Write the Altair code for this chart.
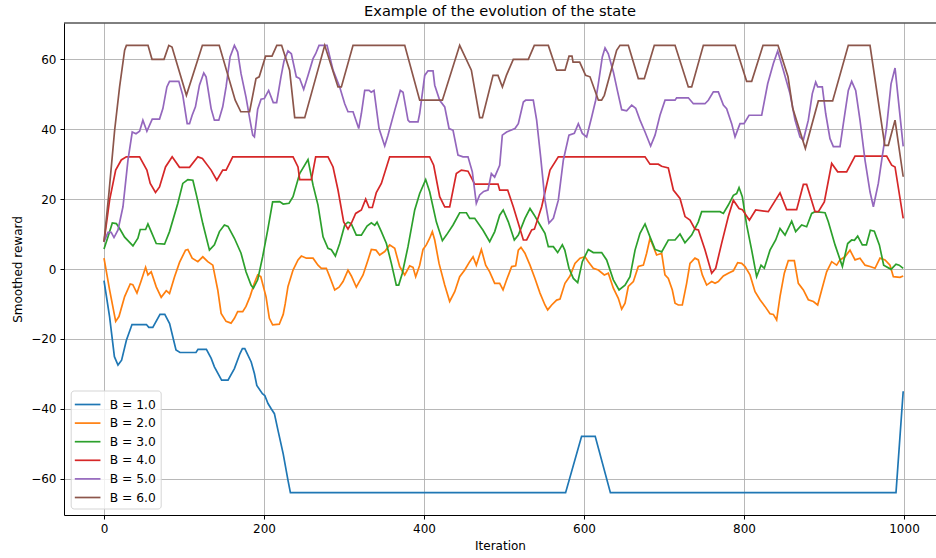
import altair as alt
import pandas as pd

series_names = ["B = 1.0", "B = 2.0", "B = 3.0", "B = 4.0", "B = 5.0", "B = 6.0"]
series_colors = ["#1f77b4", "#ff7f0e", "#2ca02c", "#d62728", "#9467bd", "#8c564b"]
x_ticks = [0, 200, 400, 600, 800, 1000]
y_ticks = [-60, -40, -20, 0, 20, 40, 60]

b1_x = [0, 7, 13, 17.5, 22, 28, 35, 53, 56, 61, 70, 76, 82, 90, 95, 115, 117.5, 128, 134, 138,
        147, 155, 163, 170, 173, 176, 184, 188, 191, 198, 201, 205, 209, 213, 217.5, 224, 230,
        233, 577, 597, 614, 633, 990, 999]
b1_y = [-3.3, -13.7, -25.1, -27.5, -26.1, -20.4, -15.9, -15.9, -16.7, -16.7, -13, -13, -15.6,
        -23.2, -23.9, -23.9, -23, -23, -25.6, -28, -31.8, -31.8, -28.5, -24.2, -22.8, -22.8,
        -26.6, -29.9, -33.3, -35.7, -36.2, -38.5, -40, -41.4, -46.2, -52.9, -60.5, -64, -64,
        -47.9, -47.9, -64, -64, -35]

b2_x = [0, 7, 14.6, 18.7, 25.8, 32.8, 36, 41.2, 46.6, 52, 54.9, 59, 65.3, 71.5, 77.8, 81.9,
        88.1, 94.4, 101.9, 104.8, 110.2, 117.3, 123.5, 129.7, 136, 142.2, 146.4, 152.6, 158.8,
        163, 167.1, 173.4, 177.5, 182.5, 187.9, 192.1, 196, 202.5, 206.7, 210.8, 219.1, 224,
        226.5, 230, 236.3, 242.5, 246.7, 253, 261.3, 267.5, 271.7, 277.9, 282.1, 288.4, 293.8,
        298.8, 305, 309.2, 315.4, 323.8, 330, 334.2, 340, 344.6, 350.9, 357.1, 363.4, 369.6,
        375.9, 382.1, 386.3, 389.6, 394.6, 398.8, 402.9, 407.1, 410.4, 413.4, 418.8, 425.9,
        432.1, 438.4, 444.6, 450.9, 457.1, 461.3, 465.4, 471.7, 477.1, 482.1, 488.4, 494.6,
        498.8, 503.3, 509.6, 514.6, 517.9, 521.2, 526.2, 532.5, 538.7, 545, 551.2, 554.6,
        559.6, 565.8, 570, 576.2, 582.5, 588.7, 595, 601.2, 605.4, 611.6, 617.9, 625.4, 630.4,
        636.7, 642.9, 647.1, 651.3, 655.4, 661.7, 667.9, 674.2, 678.3, 682.5, 686.7, 690.8,
        697.1, 701.2, 705.4, 710.4, 713.8, 717.9, 722.9, 728.3, 732.5, 738.7, 742.9, 747.9,
        753.3, 759.6, 763.8, 767.9, 774.2, 780.4, 786.7, 792.1, 797.1, 801.3, 807.5, 813.8,
        820, 826.2, 832.5, 836.7, 840.8, 845, 850.4, 855.4, 862.9, 867.9, 874.2, 880.4, 886.7,
        892.1, 897.1, 903.3, 909.6, 915.8, 920, 926.2, 932.5, 938.8, 945, 951.3, 957.5, 963.8,
        970, 976.3, 982.5, 986.7, 995, 999]
b2_y = [3.1, -6, -15, -13.6, -7.9, -4.3, -4.5, -6.9, -3.3, 0.5, -1.7, -0.8, -5.1, -8.1, -6.2,
        -7, -2.3, 1.9, 5.4, 5.6, 3.1, 2.1, 3.5, 2.1, 1.1, -6, -12.7, -15, -15.5, -14.1, -12.2,
        -12.2, -10.7, -7.9, -4.1, -1.7, -2.2, -7.9, -14.1, -16, -15.8, -13, -10, -5, -0.3, 2.6,
        3.7, 3.1, 3.1, 1.1, 0.2, 0.2, -2.2, -6, -5.2, -3.6, -0.3, -2, -5.2, -1.7, 2.6, 5.6, 5.4,
        4, 5, 6.9, 5.9, 0.7, -1.7, 0.9, 0.5, -2.2, 1.1, 5.6, 6.9, 8.8, 10.7, 8.3, 1.6, -4.6,
        -9.3, -6.5, -2.2, -0.3, 2.1, 3.5, 1.1, 5.6, 1.1, -0.8, -4.1, -4.1, -6, -3.1, 0.7, 0.9,
        5.4, 6.2, 4.5, 1.1, -2.7, -6.9, -10.3, -11.7, -10.3, -8.9, -8.6, -4.1, -2, 1.6, 3.1,
        3.5, 2.1, 0.2, -0.3, -1.7, -1.2, -5.5, -8.4, -11.5, -9.8, -5, -3.6, 0.7, 1.1, 4.5, 8.8,
        6.4, 4, 4.5, -1.7, -2.7, -6, -9.8, -10.3, -10.3, -4.1, 1.6, 3.1, 2.6, -1.7, -4.6, -3.6,
        -4.1, -3.6, -2, -1.2, -0.5, 1.8, 1.6, 0.7, -1.7, -6.5, -8.8, -10.7, -12.8, -13, -14.6,
        -7.9, -1.2, 2.4, 2.4, -4.1, -6, -8.8, -9.3, -10.3, -6, -0.8, 2.1, 1.1, 2.6, 3.5, 5.4,
        2.6, 3.1, 1.1, 0.7, 0.2, 3.1, 2.6, 1.1, -2.2, -2.4, -2]

b3_x = [0, 5, 10.4, 15.4, 19.5, 25.8, 36.2, 42.4, 45.3, 52, 54.9, 59, 65.3, 75.7, 81.9, 92.3,
        98.5, 104.8, 111.1, 116, 123.5, 131.8, 138, 144.3, 150.5, 155, 163, 171.3, 177.5, 183.8,
        186.7, 192.1, 198.3, 204.6, 210.8, 219.6, 224, 231.3, 236.3, 244.6, 255, 261.3, 267.5,
        273.8, 280, 284.2, 289.2, 294.6, 300.9, 305, 309, 315.4, 321.7, 328.8, 334.2, 338.4,
        341.3, 346.7, 353, 359.2, 365.4, 368.4, 372.9, 380, 388.4, 394.6, 402.1, 407.1, 415.4,
        423, 428, 436.3, 444.6, 453, 457.1, 463.4, 473.8, 482.1, 488.4, 494.6, 499, 505.4,
        512.9, 517.9, 526.2, 532.5, 537.9, 545, 551.2, 555.4, 561.7, 567.1, 572.9, 576, 581.2,
        586.7, 592.1, 597.9, 605.4, 611.6, 622.1, 628.3, 636.7, 643.8, 651.3, 657.5, 663.8,
        670, 676.3, 682.5, 688.8, 697.1, 705.4, 713.8, 720, 726.2, 734.6, 742.9, 747.1, 770,
        774.2, 780.4, 786.7, 790.8, 793.8, 797.9, 803.3, 809.6, 815.8, 821.3, 825.4, 832.5,
        839.6, 845, 851.3, 859.6, 864.6, 872.1, 878.3, 884.6, 888.8, 901.3, 905.4, 913.8, 923,
        929.6, 934.6, 938, 942.1, 947.9, 953, 957.9, 962.9, 969.2, 974.6, 983.8, 990, 994, 999]
b3_y = [5.7, 9.2, 13.2, 13, 11.6, 9.1, 6.6, 8.8, 11.3, 11.3, 12.9, 10.7, 7.3, 7.1, 10.7, 18.8,
        24.5, 25.6, 25.4, 20.7, 13, 5.4, 6.9, 10.7, 12.6, 12.2, 8.8, 4.5, -0.8, -4.6, -5.5, -3.1,
        3.5, 11.1, 19.2, 19.3, 18.6, 18.8, 20.7, 27.3, 31.3, 24, 18.3, 9.2, 5.9, 5.5, 3.7, 7.3,
        12.6, 13.4, 13, 9.7, 9.7, 12.3, 13.2, 12.5, 13.4, 10.7, 7.3, 1.6, -4.6, -4.6, -1.2, 6.4,
        16.9, 21.6, 25.6, 22.1, 13.5, 8.1, 9.7, 12.6, 16.1, 16.1, 14.5, 14.5, 11.1, 7.8, 10.7,
        15.4, 16.9, 13.5, 8.3, 9.7, 14.5, 17.3, 15.4, 12.6, 10.2, 6.4, 6.4, 4.7, 6.9, 5.4, 0.2,
        -2.7, -3.9, 2.1, 5.6, 4.7, 4.7, 2.6, -3.1, -6, -4.6, -2.2, 5.4, 10.2, 12.9, 9.2, 5.6,
        4.9, 8.3, 8.3, 10, 7.5, 9.7, 13.5, 16.4, 16.4, 15.9, 18.3, 21.1, 21.6, 23.3, 20.7, 12.6,
        5.4, -2.2, 1.1, 0.2, 5.4, 8.3, 11.6, 9.7, 13.7, 10.7, 12.6, 12.1, 15.9, 16.4, 16.1,
        13.5, 6.9, 0.7, 7.3, 8.3, 8.2, 9.4, 6.9, 6.9, 11.1, 10.8, 6.9, 1.1, -0.1, 1.4, 1.1, 0.2]

b4_x = [0, 7, 14.6, 21.6, 27.9, 44.5, 53.6, 57.8, 64.4, 69.4, 76.9, 85.2, 94.4, 106.9, 117.3,
        123, 133.9, 141, 148.4, 152.6, 160.9, 236.3, 242.5, 244.6, 259.2, 264.6, 280, 286.3,
        292.5, 299.6, 305, 309.2, 314.6, 321.7, 327.1, 331.3, 335.4, 340.4, 346.7, 357.1, 407.1,
        412.1, 419.6, 425.9, 432.1, 440.4, 446.7, 455, 463.4, 492.5, 494.6, 504.6, 511.6, 524.2,
        528.3, 534.6, 538, 547.1, 557.5, 567.9, 676.3, 682.5, 692.9, 697, 705.4, 711.7, 720,
        726.3, 732.5, 738.8, 743, 751.2, 759.6, 764.6, 772.1, 780.4, 786.7, 793.8, 797.9, 806.7,
        814.6, 830.4, 845, 853.3, 865.8, 874.2, 878.3, 888.8, 893, 900.4, 909.6, 917.1, 928.3,
        938.8, 978.3, 984.6, 988.8, 999]
b4_y = [7.8, 19.7, 28.3, 31.2, 32.1, 32.1, 28.3, 24.5, 21.9, 23.5, 29.2, 32.1, 29.1, 29.1, 32.1,
        31.6, 28.3, 25.4, 28.3, 28.3, 32.1, 32.1, 29.2, 25.6, 25.6, 32.1, 32.1, 29.2, 22.6, 13.5,
        11.4, 13.1, 15.9, 16.9, 20, 17.6, 17.6, 21.9, 24.5, 32.1, 32.1, 29.7, 20.7, 17.8, 17.8,
        27.3, 28.3, 28, 24.3, 24.3, 22.6, 22.6, 17.8, 8.3, 8.3, 11.2, 11.4, 17.8, 28.3, 32.1,
        32.1, 30, 30, 29.4, 28.9, 22.6, 20.2, 15, 14, 11.4, 11.2, 5.5, -1.2, 0.2, 7.4, 15, 19.7,
        17.3, 17, 14, 16.9, 16.4, 21.8, 17, 17, 24.2, 24.2, 16.4, 16.4, 19.2, 30.2, 27.8, 27.8,
        32.3, 32.3, 29.7, 29.2, 14.5]

b5_x = [0, 5, 9, 12.5, 17.5, 23.7, 30, 35.3, 40, 44.5, 48.6, 53.6, 60.3, 69.4, 73.6, 78.6, 81.9,
        93.5, 98.5, 104, 106.9, 110.2, 114.3, 119.3, 124.7, 127.6, 133.9, 138, 143.5, 148.4,
        152.6, 157.6, 163, 167.1, 171.3, 177.5, 182.5, 185.9, 188, 192.1, 196.3, 200.4, 205.8,
        211.6, 215.8, 221.2, 225, 230, 234.2, 240.4, 244.6, 249.6, 255, 261.3, 264.6, 268.8,
        278.8, 286.3, 294.6, 300.9, 305, 311.3, 318.4, 321.7, 325.9, 331.3, 334, 337.5, 343.8,
        350.9, 355, 363.4, 370.4, 373.8, 380, 382, 392.5, 394.6, 400.9, 405, 411.3, 413.4,
        419.6, 425.9, 431.3, 436.3, 442.5, 448.8, 455, 460.4, 465.4, 469.6, 474.6, 480, 484.2,
        488.3, 494.6, 497.9, 503.3, 513.7, 517.9, 524.2, 527.1, 536.6, 540.8, 545.8, 551.2,
        556.2, 561.7, 567.9, 574.2, 581.2, 587.9, 592.9, 597.9, 603.3, 609.6, 614.6, 617.9,
        622.9, 626.3, 630.4, 636.7, 642.1, 647.1, 653.3, 659.6, 664.6, 670, 676.3, 683.3, 688.8,
        695, 701.3, 713.8, 715.8, 730.4, 736.7, 751.2, 755.4, 761.7, 767.9, 774.2, 778.3, 784.6,
        788.8, 795, 800, 806.3, 822.1, 829.6, 836.7, 842.1, 849.2, 857.5, 863.8, 870, 874.2,
        880.4, 885.4, 889.6, 892.1, 897.9, 902.1, 907.5, 911.7, 920, 924.2, 930.4, 934.6, 939.6,
        945, 951.3, 957.5, 961.7, 967.9, 972.1, 978.3, 983.8, 988.8, 999]
b5_y = [7.8, 10.5, 10.5, 9, 11.2, 17.8, 31.2, 39.2, 38.7, 39.4, 42.6, 39.4, 42.9, 42.9, 45.9,
        52.1, 53.7, 53.7, 49.7, 41.6, 41.6, 44, 46.4, 52.6, 56.1, 55, 45.9, 42.6, 42.6, 46.4,
        52.1, 60.7, 64, 62.1, 55.9, 49.2, 42.6, 38.3, 37.8, 45.7, 48.6, 48.8, 51.1, 47.6, 47.6,
        55, 59.5, 62.4, 61.6, 55, 54.5, 51.4, 55.4, 60.2, 61.6, 64, 64, 56.9, 52.1, 47.3, 45, 45,
        40.2, 44.5, 51.1, 51.1, 50.6, 51.1, 40.2, 35.2, 38.3, 45.4, 51.1, 50.6, 42.6, 42.1, 42.1,
        44.5, 55.4, 56.7, 56.7, 52.6, 48.3, 46.4, 40.2, 39.7, 32.6, 32.1, 32.1, 27.8, 18.8,
        21.2, 22.2, 22.6, 27.3, 26.3, 29.7, 38.3, 39.2, 40.2, 41.6, 47.8, 48.3, 48.3, 42.6,
        32.1, 19.7, 13.1, 14.5, 19.7, 31.2, 38.3, 38.8, 41.6, 38.8, 37.8, 43.5, 48.3, 53, 60.7,
        63.3, 61.6, 56.4, 50.7, 45.6, 45.3, 46.9, 46, 42.6, 39.2, 35.2, 38.3, 44, 48.3, 48.3, 49,
        49, 47.3, 47.3, 48.3, 50.7, 50.7, 46.9, 45.9, 41.6, 37.8, 41.6, 41.6, 44, 44, 53, 58.8,
        62.4, 56.9, 50.2, 42.6, 37.8, 36.9, 42.6, 50.2, 53.5, 52.1, 52.1, 44.5, 37.3, 35, 35,
        41.6, 51.1, 53.7, 51.1, 42.6, 31.1, 22.1, 17.8, 24.5, 31.1, 40.7, 53, 57.5, 35.1]

b6_x = [0, 6.2, 13.3, 19.5, 25.8, 28, 55, 60, 75, 81, 85, 103, 123, 144, 164, 171, 182, 190,
        194, 202, 210, 216, 222, 232, 238.4, 250.9, 275.9, 292.5, 296.7, 311.3, 375.9, 394.6,
        423, 444.6, 459.2, 469.6, 473, 486.3, 492.5, 498, 503, 511.6, 530.4, 537.9, 555.4, 565.8,
        576.3, 581.3, 585, 586.3, 594.6, 602, 607.5, 618, 622, 625.4, 640.8, 645, 655.4, 667.9,
        675.4, 687.9, 713.8, 730.4, 734.6, 749.2, 789, 803.3, 809.6, 823.8, 842.5, 855, 861,
        876.7, 892.9, 910.8, 930.4, 957.5, 976, 980.4, 988.8, 999]
b6_y = [7.8, 21.8, 39.7, 52.1, 62.6, 64, 64, 60, 60, 64, 63.5, 49.7, 64, 64, 48.3, 45, 45, 54.5,
        55, 60.9, 60.9, 64, 64, 56.9, 43.3, 43.3, 64, 52.1, 52.1, 64, 64, 48.3, 48.3, 64, 56.9,
        43.3, 43.3, 55.4, 55.4, 52.1, 55.4, 60, 60, 64, 64, 56.9, 56.9, 60.9, 60.9, 59.2, 59.2,
        55.4, 55, 48.3, 48.3, 49.7, 62.6, 64, 64, 54.5, 54.5, 64, 64, 52.1, 52.1, 64, 64, 53.7,
        53.7, 64, 64, 55, 45.9, 34.5, 48.1, 48.1, 64, 64, 35.4, 35.4, 42.6, 26.4]

all_x = [b1_x, b2_x, b3_x, b4_x, b5_x, b6_x]
all_y = [b1_y, b2_y, b3_y, b4_y, b5_y, b6_y]

rows = []
for name, xs, ys in zip(series_names, all_x, all_y):
    for xv, yv in zip(xs, ys):
        rows.append({"series": name, "iteration": xv, "reward": yv})
df = pd.DataFrame(rows)

FONT = "DejaVu Sans"

lines = alt.Chart(df).mark_line(strokeWidth=1.7, clip=True).encode(
    x=alt.X("iteration:Q",
            scale=alt.Scale(domain=[-50, 1040], nice=False, zero=False),
            axis=alt.Axis(values=x_ticks, title="Iteration", format="d")),
    y=alt.Y("reward:Q",
            scale=alt.Scale(domain=[-70.4, 70.4], nice=False, zero=False),
            axis=alt.Axis(values=y_ticks, title="Smoothed reward", format="d")),
    color=alt.Color("series:N",
                    scale=alt.Scale(domain=series_names, range=series_colors),
                    legend=alt.Legend(title=None, orient="none", legendX=6.7, legendY=367.5,
                                      symbolType="M-1.1,0H1.75", symbolSize=324,
                                      symbolStrokeWidth=1.7, labelFontSize=12.3, labelFont=FONT,
                                      labelColor="black", labelOffset=15, padding=4,
                                      rowPadding=1.6, fillColor="rgba(255,255,255,0.8)",
                                      strokeColor="#d5d5d5", cornerRadius=3, labelLimit=200)),
)

top_spine = alt.Chart(pd.DataFrame({"k": [0]})).mark_rule(color="black", strokeWidth=1).encode(
    x=alt.value(0), x2=alt.value(872), y=alt.value(0)
)

chart = alt.layer(lines, top_spine).properties(
    width=872, height=492,
    padding={"left": 64, "top": 23, "right": 0, "bottom": 43},
    autosize=alt.AutoSizeParams(type="none"),
    title=alt.TitleParams("Example of the evolution of the state", fontSize=14.6, font=FONT,
                          fontWeight="normal", anchor="middle", offset=4, color="black"),
    background="white",
).configure_view(stroke=None).configure_axis(
    labelFont=FONT, labelFontSize=12, labelColor="black",
    titleFont=FONT, titleFontSize=12, titleFontWeight="normal", titleColor="black",
    grid=True, gridColor="#b0b0b0", gridWidth=0.9,
    domainColor="black", domainWidth=1,
    tickColor="black", tickWidth=1, tickSize=4, labelPadding=4,
).configure_axisX(titlePadding=6).configure_axisY(titlePadding=6)

chart.save("out.html", embed_options={"renderer": "svg", "actions": False})
